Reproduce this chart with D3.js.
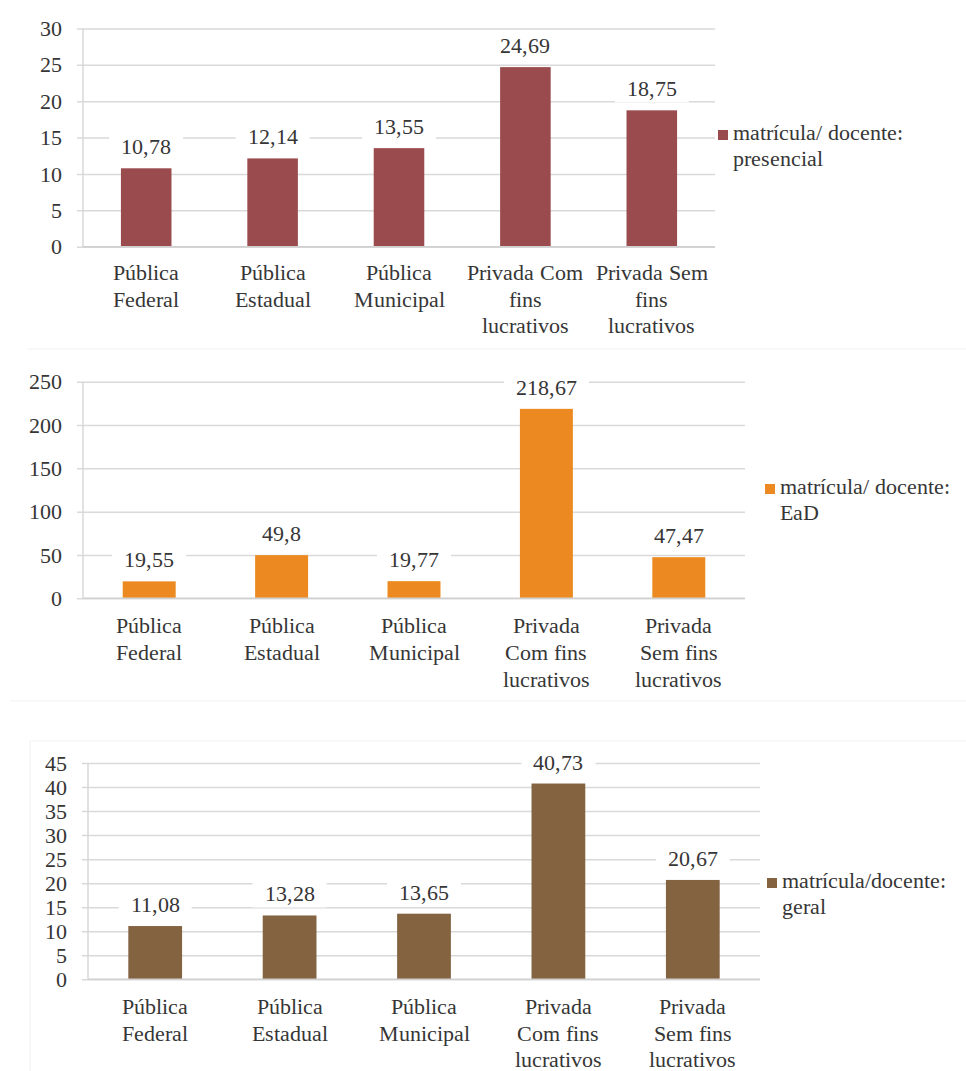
<!DOCTYPE html>
<html>
<head>
<meta charset="utf-8">
<script src="https://cdn.jsdelivr.net/npm/d3@7"></script>
<style>
  @font-face {
    font-family: "ChartSerif";
    src: local("Liberation Serif"), local("LiberationSerif"), local("LiberationSerif-Regular"),
         local("Liberation Serif Regular"), local("Tinos"), local("Times New Roman");
  }
  html, body { margin: 0; padding: 0; background: #ffffff; }
  svg { display: block; }
</style>
</head>
<body>
<svg id="chart" width="966" height="1071"></svg>
<script>
// Institution categories (wrapped labels for narrow and wide layouts)
const categories = ["Pública Federal", "Pública Estadual", "Pública Municipal",
  "Privada Com fins lucrativos", "Privada Sem fins lucrativos"];
const labelLinesNarrow = [["Pública", "Federal"], ["Pública", "Estadual"], ["Pública", "Municipal"],
  ["Privada Com", "fins", "lucrativos"], ["Privada Sem", "fins", "lucrativos"]];
const labelLinesWide = [["Pública", "Federal"], ["Pública", "Estadual"], ["Pública", "Municipal"],
  ["Privada", "Com fins", "lucrativos"], ["Privada", "Sem fins", "lucrativos"]];

// Enrolment per teacher ratios
const presencialValues = [10.78, 12.14, 13.55, 24.69, 18.75];
const eadValues = [19.55, 49.8, 19.77, 218.67, 47.47];
const geralValues = [11.08, 13.28, 13.65, 40.73, 20.67];

// Axis ticks
const presencialTicks = [0, 5, 10, 15, 20, 25, 30];
const eadTicks = [0, 50, 100, 150, 200, 250];
const geralTicks = [0, 5, 10, 15, 20, 25, 30, 35, 40, 45];

// Legend labels
const presencialLegend = ["matrícula/ docente:", "presencial"];
const eadLegend = ["matrícula/ docente:", "EaD"];
const geralLegend = ["matrícula/docente:", "geral"];

const FONT = "ChartSerif, 'Liberation Serif', 'DejaVu Serif', serif";
const TEXT_COLOR = "#363636";

const svg = d3.select("#chart")
  .attr("font-family", FONT)
  .style("font-family", FONT);

// faint outlines of the three panels
const frame = svg.append("g").attr("fill", "none").attr("stroke", "#f6f6f6").attr("stroke-width", 1.5);
frame.append("line").attr("x1", 28).attr("x2", 966).attr("y1", 349).attr("y2", 349);
frame.append("line").attr("x1", 10).attr("x2", 966).attr("y1", 701).attr("y2", 701);
frame.append("line").attr("x1", 30).attr("x2", 966).attr("y1", 741).attr("y2", 741);
frame.append("line").attr("x1", 30).attr("x2", 30).attr("y1", 741).attr("y2", 1071);

const panels = [
  { values: presencialValues, ticks: presencialTicks, max: 30, lines: labelLinesNarrow,
    legend: presencialLegend, color: "#9a4b4e",
    left: 83, right: 715, top: 28.5, bottom: 246.7, tickEnd: 62, catOffset: 33.5, catStep: 26.5,
    legendX: 718, legendY: 140 },
  { values: eadValues, ticks: eadTicks, max: 250, lines: labelLinesWide,
    legend: eadLegend, color: "#ec8a21",
    left: 83, right: 745, top: 381.7, bottom: 598.3, tickEnd: 62, catOffset: 35, catStep: 27,
    legendX: 765, legendY: 494 },
  { values: geralValues, ticks: geralTicks, max: 45, lines: labelLinesWide,
    legend: geralLegend, color: "#846341",
    left: 88, right: 760, top: 763, bottom: 979.3, tickEnd: 67, catOffset: 35, catStep: 26.5,
    legendX: 767, legendY: 888 }
];

function styleText(sel) {
  return sel.attr("font-family", FONT).style("font-family", FONT)
    .style("font-size", "22px").attr("fill", TEXT_COLOR);
}

panels.forEach(p => {
  const g = svg.append("g");
  const x = d3.scaleBand().domain(categories).range([p.left, p.right])
    .paddingInner(0.6).paddingOuter(0.3);
  const y = d3.scaleLinear().domain([0, p.max]).range([p.bottom, p.top]);

  // gridlines + ticks
  const yAxis = d3.axisLeft(y).tickValues(p.ticks).tickSize(-(p.right - p.left))
    .tickSizeOuter(0).tickPadding(0).tickFormat(d => d);
  const ay = g.append("g").attr("transform", `translate(${p.left},0)`).call(yAxis)
    .attr("font-family", FONT);
  ay.select(".domain").remove();
  ay.selectAll(".tick line").attr("stroke", "#d9d9d9").attr("stroke-width", 1.5).attr("x1", -6);
  styleText(ay.selectAll(".tick text"))
    .attr("x", p.tickEnd - p.left)
    .attr("dy", "0.32em")
    .attr("text-anchor", "end");

  // left axis line
  g.append("line").attr("x1", p.left).attr("x2", p.left).attr("y1", p.top).attr("y2", p.bottom)
    .attr("stroke", "#d9d9d9").attr("stroke-width", 1.5);

  // bars
  g.selectAll("rect.bar").data(p.values).join("rect").attr("class", "bar")
    .attr("x", (d, i) => x(categories[i]))
    .attr("width", x.bandwidth())
    .attr("y", d => y(d))
    .attr("height", d => p.bottom - y(d))
    .attr("fill", p.color);

  // baseline
  g.append("line").attr("x1", p.left).attr("x2", p.right).attr("y1", p.bottom).attr("y2", p.bottom)
    .attr("stroke", "#d0d0d0").attr("stroke-width", 1.5);

  // value labels on white backing
  const lab = g.selectAll("g.val").data(p.values).join("g").attr("class", "val")
    .attr("transform", (d, i) => `translate(${x(categories[i]) + x.bandwidth() / 2},${y(d) - 14})`);
  styleText(lab.append("text"))
    .attr("text-anchor", "middle")
    .text(d => String(d).replace(".", ","));
  lab.each(function () {
    const t = d3.select(this).select("text").node();
    const w = t.getComputedTextLength();
    d3.select(this).insert("rect", "text")
      .attr("x", -w / 2 - 12).attr("width", w + 24)
      .attr("y", -20).attr("height", 26)
      .attr("fill", "#fff");
  });

  // category labels
  p.lines.forEach((lines, i) => {
    const cx = x(categories[i]) + x.bandwidth() / 2;
    const t = styleText(g.append("text")).attr("text-anchor", "middle");
    lines.forEach((ln, j) => {
      t.append("tspan").attr("x", cx).attr("y", p.bottom + p.catOffset + j * p.catStep).text(ln);
    });
  });

  // legend
  const lg = g.append("g");
  lg.append("rect").attr("x", p.legendX).attr("y", p.legendY - 10).attr("width", 10).attr("height", 10)
    .attr("fill", p.color);
  const lt = styleText(lg.append("text"));
  p.legend.forEach((ln, j) => {
    lt.append("tspan").attr("x", p.legendX + 15).attr("y", p.legendY + j * 26).text(ln);
  });
});
</script>
</body>
</html>
